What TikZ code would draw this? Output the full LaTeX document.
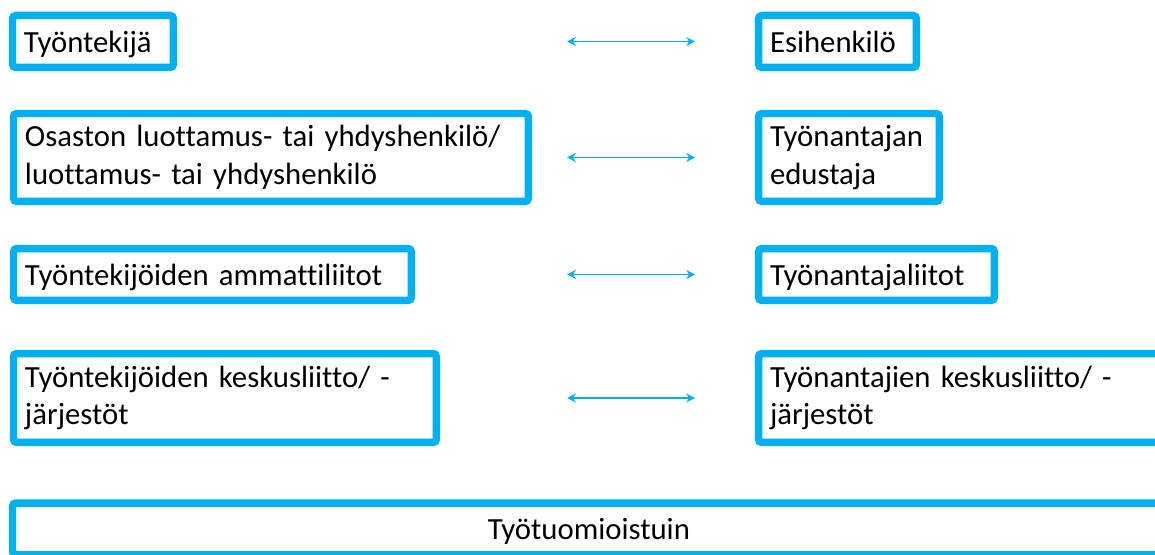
\documentclass[tikz,border=0pt]{standalone}
\usepackage{fontspec}
\setmainfont{Carlito}[Ligatures=NoCommon]
\usetikzlibrary{arrows.meta}
\definecolor{vaaleansininen}{HTML}{00B0F0}
\tikzset{
  laatikko/.style={draw=vaaleansininen,line width=0.15cm,rounded corners=2pt,fill=white,
    outer sep=0pt,inner xsep=0.23cm,inner ysep=0pt,align=left,anchor=north west,
    font=\fontsize{17.5}{21.5}\selectfont},
  yksirivi/.style={laatikko,text depth=0pt,minimum height=1.04cm},
  nuoli/.style={draw=vaaleansininen,line width=0.9pt,
    {Stealth[length=5pt,width=5pt]}-{Stealth[length=5pt,width=5pt]}}
}
\begin{document}
\begin{tikzpicture}[x=0.02cm,y=-0.02cm]
\useasboundingbox(0,0)rectangle(1155,554);
%tyontekijat
\node[yksirivi,text width=2.76cm](t1)at(12.5,15.5){Työntekijä};
\node[laatikko,text width=9.84cm,minimum height=1.76cm](t2)at(13.5,113.5){Osaston luottamus- tai yhdyshenkilö/\\luottamus- tai yhdyshenkilö};
\node[yksirivi,text width=7.50cm](t3)at(13.5,248.5){Työntekijöiden ammattiliitot};
\node[laatikko,text width=8.00cm,minimum height=1.78cm](t4)at(13.5,353.5){Työntekijöiden keskusliitto/ -\\järjestöt};
%tyonantajat
\node[yksirivi,text width=2.70cm](e1)at(758.5,15.5){Esihenkilö};
\node[laatikko,text width=3.16cm,minimum height=1.76cm](e2)at(758.5,113.5){Työnantajan\\edustaja};
\node[yksirivi,text width=4.26cm](e3)at(758.5,248.5){Työnantajaliitot};
\node[laatikko,text width=7.78cm,minimum height=1.78cm](e4)at(758.5,353.5){Työnantajien keskusliitto/ -\\järjestöt};
%tuomioistuin
\node[yksirivi,align=center,text width=22.60cm](tt)at(12.5,503){Työtuomioistuin};
%nuolet
\coordinate(vasen)at(567,0);
\coordinate(oikea)at(695,0);
\foreach \v/\o in {t1/e1,t2/e2,t3/e3,t4/e4}{
\draw[nuoli](\v-|vasen)--(\o-|oikea);
}
\end{tikzpicture}
\end{document}
